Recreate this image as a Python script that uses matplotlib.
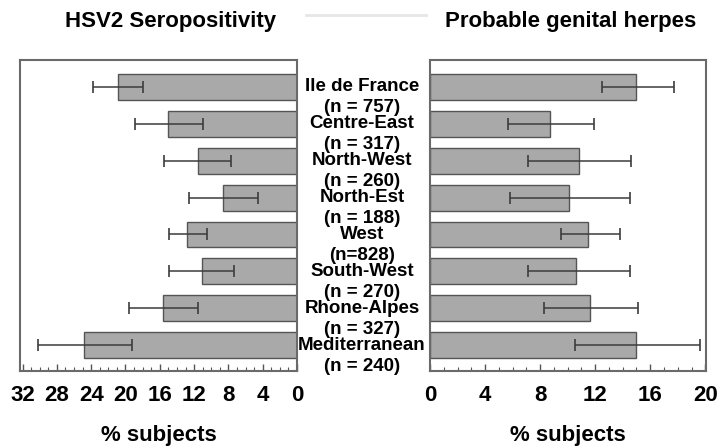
import matplotlib
matplotlib.use("Agg")
import matplotlib.pyplot as plt
from matplotlib.ticker import MultipleLocator
from matplotlib.transforms import blended_transform_factory
from matplotlib.lines import Line2D

plt.rcParams['font.family'] = ['Liberation Sans', 'DejaVu Sans']
plt.rcParams['font.weight'] = 'bold'

regions = ['Ile de France', 'Centre-East', 'North-West', 'North-Est',
           'West', 'South-West', 'Rhone-Alpes', 'Mediterranean']
counts = ['(n = 757)', '(n = 317)', '(n = 260)', '(n = 188)',
          '(n=828)', '(n = 270)', '(n = 327)', '(n = 240)']

# HSV2 seropositivity (%), with 95% CI
sero = [20.9, 15.0, 11.6, 8.6, 12.8, 11.1, 15.6, 24.8]
sero_lo = [18.0, 11.0, 7.7, 4.6, 10.5, 7.4, 11.6, 19.2]
sero_hi = [23.8, 18.9, 15.5, 12.6, 14.9, 14.9, 19.6, 30.2]

# probable genital herpes (%), with 95% CI
herp = [15.0, 8.7, 10.8, 10.1, 11.5, 10.6, 11.6, 15.0]
herp_lo = [12.5, 5.7, 7.1, 5.8, 9.5, 7.1, 8.3, 10.5]
herp_hi = [17.7, 11.9, 14.6, 14.5, 13.8, 14.5, 15.1, 19.6]

W, H = 724, 448
fig = plt.figure(figsize=(W / 100, H / 100), dpi=100)

box_top, box_bot = 60, 371
axL = fig.add_axes([20 / W, (H - box_bot) / H, 277 / W, (box_bot - box_top) / H])
axR = fig.add_axes([430 / W, (H - box_bot) / H, 276 / W, (box_bot - box_top) / H])

pos = list(range(len(regions)))
bar_kw = dict(height=0.7, color='#a9a9a9', edgecolor='#555555', linewidth=1.0, zorder=2)
err_kw = dict(fmt='none', ecolor='#3c3c3c', elinewidth=1.1, capsize=4.3, capthick=1.2, zorder=3)

axL.barh(pos, sero, **bar_kw)
axL.errorbar(sero, pos,
             xerr=[[v - lo for v, lo in zip(sero, sero_lo)],
                   [hi - v for v, hi in zip(sero, sero_hi)]], **err_kw)
axR.barh(pos, herp, **bar_kw)
axR.errorbar(herp, pos,
             xerr=[[v - lo for v, lo in zip(herp, herp_lo)],
                   [hi - v for v, hi in zip(herp, herp_hi)]], **err_kw)

axL.set_xlim(32.3, 0)
axR.set_xlim(0, 20.05)

for ax in (axL, axR):
    ax.set_ylim(7.7, -0.73)
    ax.set_yticks([])
    ax.xaxis.set_major_locator(MultipleLocator(4))
    ax.xaxis.set_minor_locator(MultipleLocator(1))
    ax.tick_params(axis='x', which='major', direction='in', length=5, width=1,
                   color='#555555', pad=10, labelsize=16)
    ax.tick_params(axis='x', which='minor', direction='in', length=3, width=0.8,
                   color='#555555')
    for s in ax.spines.values():
        s.set_color('#6a6a6a')
        s.set_linewidth(1.5)
    ax.set_xlabel('% subjects', fontsize=16, fontweight='bold', labelpad=14)

# region labels between the two panels
tr = blended_transform_factory(fig.transFigure, axL.transData)
for i, (r, n) in enumerate(zip(regions, counts)):
    fig.text(362 / W, i, r, transform=tr, ha='center', va='center', fontsize=13.5,
             fontweight='bold')
    fig.text(362 / W, i + 0.57, n, transform=tr, ha='center', va='center', fontsize=13.5,
             fontweight='bold')

fig.text(171 / W, 1 - 21 / H, 'HSV2 Seropositivity', ha='center', va='center',
         fontsize=16, fontweight='bold')
fig.text(571 / W, 1 - 21 / H, 'Probable genital herpes', ha='center', va='center',
         fontsize=16, fontweight='bold')

# faint rule at the top between the titles
fig.add_artist(Line2D([306 / W, 426 / W], [1 - 15 / H, 1 - 15 / H],
                      transform=fig.transFigure, color='#e6e6e6', linewidth=2))

fig.savefig('out.png', dpi=100)
